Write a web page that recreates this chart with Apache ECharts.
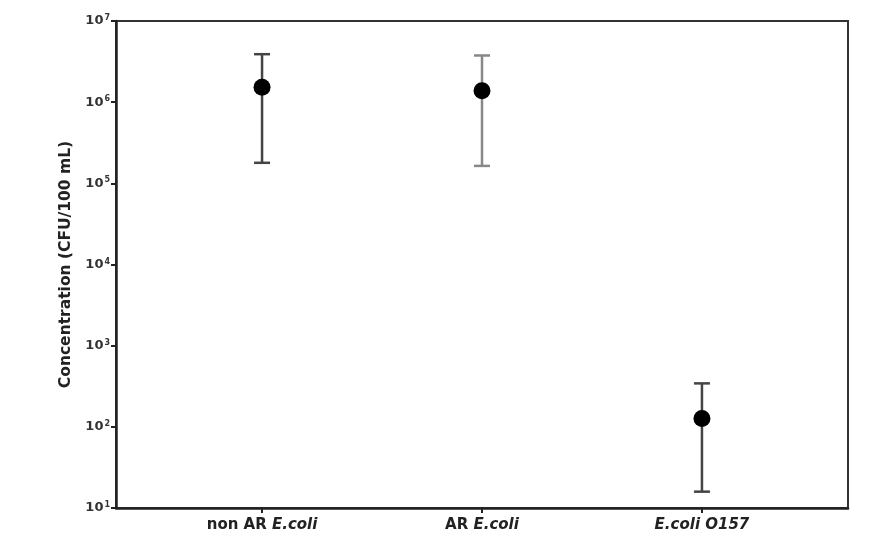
<!DOCTYPE html>
<html><head><meta charset="utf-8">
<script src="https://cdn.jsdelivr.net/npm/echarts@6/dist/echarts.min.js"></script>
<style>html,body{margin:0;padding:0;background:#fff}#c{width:880px;height:539px}</style>
</head><body><div id="c"></div>
<script>
var categories = ['non AR', 'AR', 'O157'];
var positions = [1, 2, 3];
var means = [1.53e6, 1.38e6, 127];
var upper = [3.9e6, 3.76e6, 343];
var lower = [1.79e5, 1.64e5, 15.9];
var yTicks = [10, 100, 1000, 1e4, 1e5, 1e6, 1e7];

var chart = echarts.init(document.getElementById('c'));
var font = 'DejaVu Sans, Liberation Sans, Arial, sans-serif';
var xLabelMap = {
  1: '{n|non AR }{i|E.coli}',
  2: '{n|AR }{i|E.coli}',
  3: '{i|E.coli O157}'
};
var errData = positions.map(function(p, i){ return [p, lower[i], upper[i]]; });
var ptData = positions.map(function(p, i){ return [p, means[i]]; });

chart.setOption({
  animation: false,
  backgroundColor: '#fff',
  grid: {left: 116, right: 32, top: 21, bottom: 31, show: true, borderColor: '#333', borderWidth: 2},
  xAxis: {
    type: 'value', min: 0.336, max: 3.664,
    splitLine: {show: false},
    axisLine: {show: true, lineStyle: {color: '#222', width: 2.5}},
    axisTick: {show: true, length: 5, customValues: positions, lineStyle: {color: '#222', width: 2}},
    axisLabel: {
      customValues: positions, margin: 10,
      formatter: function(v){ return xLabelMap[Math.round(v)] || ''; },
      rich: {
        n: {fontFamily: font, fontSize: 15, fontWeight: 'bold', color: '#222'},
        i: {fontFamily: font, fontSize: 15, fontWeight: 'bold', fontStyle: 'italic', color: '#222'}
      }
    }
  },
  yAxis: {
    type: 'log', logBase: 10, min: 10, max: 1e7,
    splitLine: {show: false},
    axisLine: {show: true, lineStyle: {color: '#222', width: 2.5}},
    axisTick: {show: true, length: 5, lineStyle: {color: '#222', width: 2}},
    axisLabel: {
      margin: 6,
      formatter: function(v){ var e = Math.round(Math.log10(v)); return '{b|10}{s|' + e + '}'; },
      rich: {
        b: {fontFamily: font, fontSize: 13, fontWeight: 'bold', color: '#333'},
        s: {fontFamily: font, fontSize: 8, fontWeight: 'bold', color: '#333', verticalAlign: 'top', padding: [0,0,6,1]}
      }
    },
    name: 'Concentration (CFU/100 mL)',
    nameLocation: 'middle', nameGap: 38, nameRotate: 90,
    nameTextStyle: {fontFamily: font, fontSize: 15.5, fontWeight: 'bold', color: '#222'}
  },
  series: [
    {
      type: 'custom',
      data: errData,
      renderItem: function(params, api){
        var x = api.value(0);
        var lo = api.coord([x, api.value(1)]);
        var hi = api.coord([x, api.value(2)]);
        var w = 8;
        var col = params.dataIndex === 1 ? '#888' : '#444';
        var st = {stroke: col, lineWidth: 2.5};
        return {type: 'group', children: [
          {type: 'line', shape: {x1: lo[0], y1: lo[1], x2: hi[0], y2: hi[1]}, style: st},
          {type: 'line', shape: {x1: lo[0]-w, y1: lo[1], x2: lo[0]+w, y2: lo[1]}, style: st},
          {type: 'line', shape: {x1: hi[0]-w, y1: hi[1], x2: hi[0]+w, y2: hi[1]}, style: st}
        ]};
      },
      z: 2
    },
    {
      type: 'scatter', data: ptData, symbol: 'circle', symbolSize: 17,
      itemStyle: {color: '#000', opacity: 1}, z: 3
    }
  ]
});
</script></body></html>
